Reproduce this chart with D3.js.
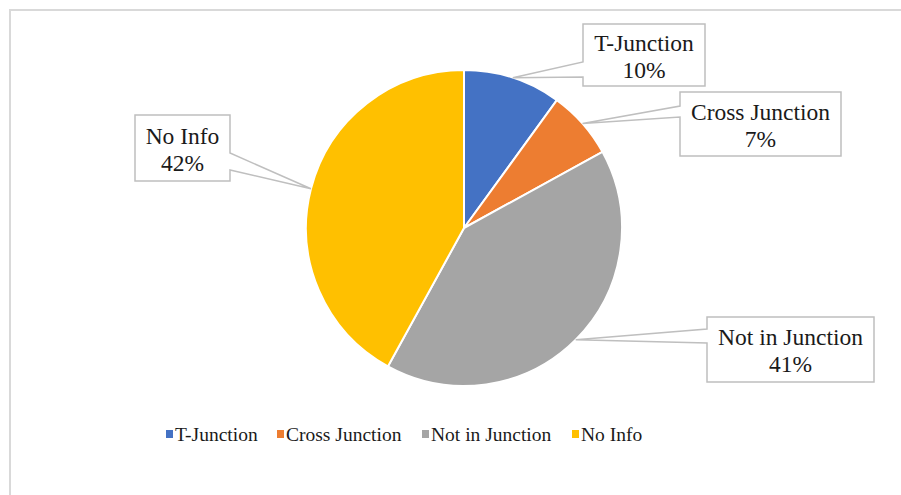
<!DOCTYPE html>
<html><head><meta charset="utf-8">
<script src="https://cdn.jsdelivr.net/npm/d3@7"></script>
<style>
html,body{margin:0;padding:0;background:#fff;}svg{display:block;}
text{font-family:"Liberation Serif","Times New Roman",Tinos,Times,"DejaVu Serif",serif;}
</style>
</head><body>
<svg id="chart" width="901" height="495"></svg>
<script>
const categories = ["T-Junction", "Cross Junction", "Not in Junction", "No Info"];
const values = [10, 7, 41, 42];
const colors = ["#4472C4", "#ED7D31", "#A5A5A5", "#FFC000"];
const labelTexts = ["10%", "7%", "41%", "42%"];

const W = 901, H = 495;
const svg = d3.select("#chart");
const textColor = "#1a1a1a";

// chart border (only top and left visible)
svg.append("path").attr("d", "M10,495 V10 H901").attr("fill", "none")
  .attr("stroke", "#d9d9d9").attr("stroke-width", 2);

const cx = 464, cy = 228, R = 158;
const pie = d3.pie().sort(null).value(d => d);
const arcs = pie(values);
const arc = d3.arc().innerRadius(0).outerRadius(R);
const g = svg.append("g").attr("transform", `translate(${cx},${cy})`);
g.selectAll("path.slice").data(arcs).join("path").attr("class", "slice")
  .attr("d", arc).attr("fill", (d, i) => colors[i])
  .attr("stroke", "#fff").attr("stroke-width", 2).attr("stroke-linejoin", "round");

// callouts: box layout
const boxes = [
  {x: 583, y: 24, w: 122, h: 62, side: "left", b0: 38, b1: 53},
  {x: 680, y: 92, w: 161, h: 64, side: "left", b0: 14, b1: 25},
  {x: 707, y: 317, w: 167, h: 65, side: "left", b0: 12, b1: 26},
  {x: 135, y: 115, w: 95, h: 66, side: "right", b0: 38, b1: 55}
];
arcs.forEach((a, i) => {
  const b = boxes[i];
  const mid = (a.startAngle + a.endAngle) / 2;
  const tx = cx + R * Math.sin(mid), ty = cy - R * Math.cos(mid);
  let p;
  if (b.side === "left") {
    p = `M${b.x},${b.y} H${b.x + b.w} V${b.y + b.h} H${b.x} V${b.y + b.b1} L${tx},${ty} L${b.x},${b.y + b.b0} Z`;
  } else {
    const xr = b.x + b.w;
    p = `M${b.x},${b.y} H${xr} V${b.y + b.b0} L${tx},${ty} L${xr},${b.y + b.b1} V${b.y + b.h} H${b.x} Z`;
  }
  svg.append("path").attr("d", p).attr("fill", "#fff").attr("stroke", "#bfbfbf")
    .attr("stroke-width", 1.5).attr("stroke-linejoin", "miter");
  const t = svg.append("text").attr("x", b.x + b.w / 2).attr("y", b.y + b.h / 2)
    .attr("text-anchor", "middle").attr("font-size", 23.5)
    .attr("fill", textColor);
  t.append("tspan").attr("x", b.x + b.w / 2).attr("dy", -4.5).text(categories[i]);
  t.append("tspan").attr("x", b.x + b.w / 2).attr("dy", 27).text(labelTexts[i]);
});

// legend
const legendX = [166, 277, 422, 572];
const legY = 434;
const lg = svg.append("g");
categories.forEach((c, i) => {
  lg.append("rect").attr("x", legendX[i]).attr("y", legY - 4).attr("width", 7).attr("height", 8)
    .attr("fill", colors[i]);
  lg.append("text").attr("x", legendX[i] + 9).attr("y", legY + 7)
    .attr("font-size", 19.5).attr("fill", textColor).text(c);
});
</script>
</body></html>
